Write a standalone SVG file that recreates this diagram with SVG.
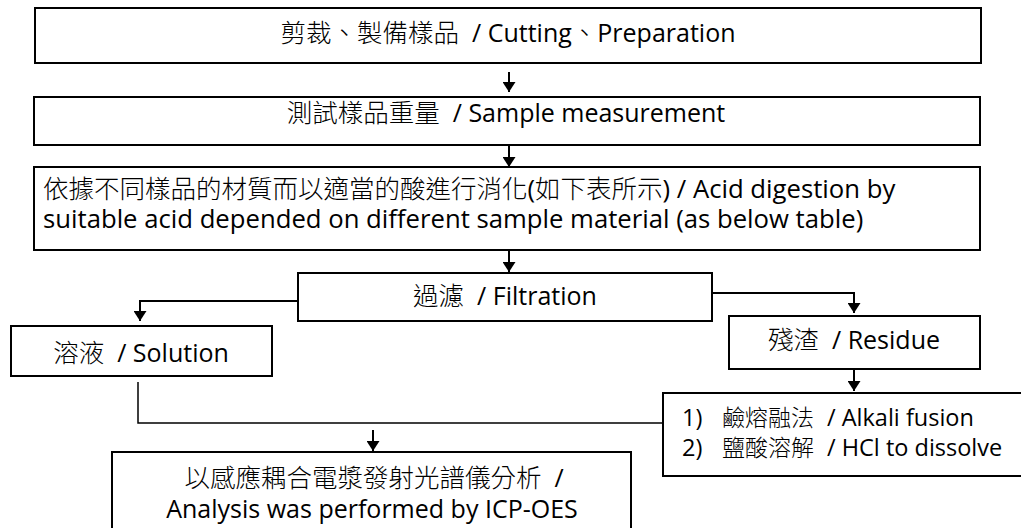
<svg xmlns="http://www.w3.org/2000/svg" width="1021" height="528" viewBox="0 0 1021 528">
<style>
.box{fill:#fff;stroke:#000;stroke-width:2}
.t{font-family:"Open Sans","Noto Sans CJK TC",sans-serif;font-size:25px;font-weight:400;fill:#000}
.c{font-family:"Noto Sans CJK TC","Open Sans",sans-serif;font-weight:300;font-size:25.5px}
.s{font-size:23.5px}
.w{font-size:25.7px}
.mid{text-anchor:middle}
.ln{fill:none;stroke:#000;stroke-width:2}
.thin{fill:none;stroke:#000;stroke-width:1.5}
</style>
<defs>
<marker id="ah" markerUnits="userSpaceOnUse" markerWidth="10" markerHeight="13" viewBox="0 0 10 13" refX="10" refY="6.5" orient="auto">
<path d="M0,0 L10,6.5 L0,13 z" fill="#000"/>
</marker>
</defs>
<rect width="1021" height="528" fill="#fff"/>
<g id="connectors">
<line class="ln" x1="509" y1="72" x2="509" y2="92" marker-end="url(#ah)"/>
<line class="ln" x1="509" y1="145" x2="509" y2="167" marker-end="url(#ah)"/>
<line class="ln" x1="509" y1="250" x2="509" y2="272" marker-end="url(#ah)"/>
<polyline class="ln" points="298,301 140,301 140,321" marker-end="url(#ah)"/>
<polyline class="ln" points="712,293 854,293 854,313" marker-end="url(#ah)"/>
<line class="ln" x1="854" y1="369" x2="854" y2="391" marker-end="url(#ah)"/>
<polyline class="thin" points="138,382 138,423 662,423"/>
<line class="ln" x1="373" y1="430" x2="373" y2="451" marker-end="url(#ah)"/>
</g>
<g id="n1">
<rect class="box" x="35" y="8" width="946" height="55"/>
<text class="t mid" x="508" y="42"><tspan class="c">剪裁、製備樣品</tspan>&#160; / Cutting<tspan class="c">、</tspan>Preparation</text>
</g>
<g id="n2">
<rect class="box" x="34" y="97" width="946" height="48"/>
<text class="t mid" x="506" y="122"><tspan class="c">測試樣品重量</tspan>&#160; / Sample measurement</text>
</g>
<g id="n3">
<rect class="box" x="34" y="167" width="946" height="83"/>
<text class="t w" x="43" y="198"><tspan class="c">依據不同樣品的材質而以適當的酸進行消化</tspan>(<tspan class="c">如下表所示</tspan>) / Acid digestion by</text>
<text class="t w" x="43" y="228">suitable acid depended on different sample material (as below table)</text>
</g>
<g id="n4">
<rect class="box" x="298" y="273" width="414" height="48"/>
<text class="t mid" x="505" y="305"><tspan class="c">過濾</tspan>&#160; / Filtration</text>
</g>
<g id="n5">
<rect class="box" x="11" y="326" width="261" height="50"/>
<text class="t mid" x="141" y="362"><tspan class="c">溶液</tspan>&#160; / Solution</text>
</g>
<g id="n6">
<rect class="box" x="729" y="316" width="251" height="53"/>
<text class="t mid" x="854" y="349"><tspan class="c">殘渣</tspan>&#160; / Residue</text>
</g>
<g id="n7">
<rect class="box" x="663" y="393" width="362" height="83"/>
<text class="t s" x="682" y="426">1)</text>
<text class="t c" x="722" y="426" style="font-size:23px">鹼熔融法</text>
<text class="t s" x="827" y="426">/ Alkali fusion</text>
<text class="t s" x="682" y="456">2)</text>
<text class="t c" x="722" y="456" style="font-size:23px">鹽酸溶解</text>
<text class="t s" x="827" y="456">/ HCl to dissolve</text>
</g>
<g id="n8">
<rect class="box" x="112" y="452" width="519" height="90"/>
<text class="t mid" x="374" y="487"><tspan class="c">以感應耦合電漿發射光譜儀分析</tspan>&#160; /</text>
<text class="t mid" x="372" y="518">Analysis was performed by ICP-OES</text>
</g>
</svg>
